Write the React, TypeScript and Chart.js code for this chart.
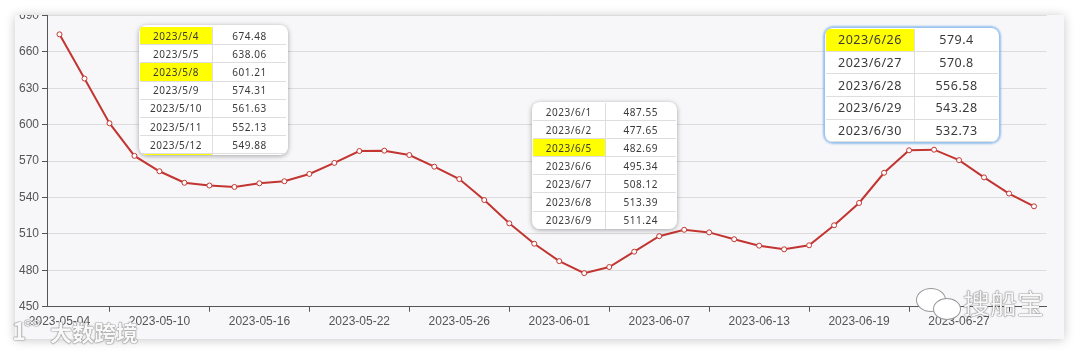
import React, { useEffect, useRef } from 'react';
import { Chart, registerables } from 'chart.js';

Chart.register(...registerables);

// ---- data ----
const dates = [
  '2023-05-04', '2023-05-05', '2023-05-08', '2023-05-09', '2023-05-10', '2023-05-11', '2023-05-12',
  '2023-05-15', '2023-05-16', '2023-05-17', '2023-05-18', '2023-05-19', '2023-05-22', '2023-05-23',
  '2023-05-24', '2023-05-25', '2023-05-26', '2023-05-29', '2023-05-30', '2023-05-31', '2023-06-01',
  '2023-06-02', '2023-06-05', '2023-06-06', '2023-06-07', '2023-06-08', '2023-06-09', '2023-06-12',
  '2023-06-13', '2023-06-14', '2023-06-15', '2023-06-16', '2023-06-19', '2023-06-20', '2023-06-21',
  '2023-06-26', '2023-06-27', '2023-06-28', '2023-06-29', '2023-06-30',
];
const values = [
  674.48, 638.06, 601.21, 574.31, 561.63, 552.13, 549.88,
  548.7, 551.7, 553.4, 559.4, 568.5, 578.3, 578.6,
  575.0, 565.4, 555.2, 537.9, 518.7, 501.9, 487.55,
  477.65, 482.69, 495.34, 508.12, 513.39, 511.24, 505.6,
  500.3, 497.3, 500.6, 517.1, 535.5, 560.4, 578.9,
  579.4, 570.8, 556.58, 543.28, 532.73,
];
const yMin = 450;
const yMax = 690;
const yStep = 30;
const labelEvery = 4;

// tooltip tables (date strings + values shown in the three boxes)
const tableADates = ['2023/5/4', '2023/5/5', '2023/5/8', '2023/5/9', '2023/5/10', '2023/5/11', '2023/5/12', '2023/5/15'];
const tableAValues = ['674.48', '638.06', '601.21', '574.31', '561.63', '552.13', '549.88', '548.7'];
const tableBDates = ['2023/6/1', '2023/6/2', '2023/6/5', '2023/6/6', '2023/6/7', '2023/6/8', '2023/6/9'];
const tableBValues = ['487.55', '477.65', '482.69', '495.34', '508.12', '513.39', '511.24'];
const tableCDates = ['2023/6/26', '2023/6/27', '2023/6/28', '2023/6/29', '2023/6/30'];
const tableCValues = ['579.4', '570.8', '556.58', '543.28', '532.73'];
const highlighted = ['2023/5/4', '2023/5/8', '2023/5/15', '2023/6/5', '2023/6/26'];

const LINE = '#c23531';
const AXIS = '#555';

type TipProps = {
  left: number; top: number; width: number; height: number;
  rowH: number; split: number; fontSize: number; pad: string;
  ds: string[]; vs: string[]; shadow: string;
};

function Tip(p: TipProps) {
  return (
    <div style={{
      position: 'absolute', left: p.left, top: p.top, width: p.width, height: p.height,
      background: '#fff', borderRadius: 8, overflow: 'hidden', boxShadow: p.shadow,
      boxSizing: 'border-box', padding: p.pad,
    }}>
      {p.ds.map((d, i) => (
        <div key={d} style={{
          display: 'flex', height: p.rowH, boxSizing: 'border-box',
          borderBottom: '1px solid #dedede',
          fontFamily: '"Noto Sans", "DejaVu Sans", sans-serif', fontSize: p.fontSize,
          letterSpacing: 0.5, color: '#3a3a3a',
        }}>
          <div style={{
            width: p.split, boxSizing: 'border-box', borderRight: '1px solid #dedede',
            background: highlighted.includes(d) ? '#ffff00' : '#fff',
            display: 'flex', alignItems: 'center', justifyContent: 'center',
          }}>{d}</div>
          <div style={{ flex: 1, display: 'flex', alignItems: 'center', justifyContent: 'center' }}>{p.vs[i]}</div>
        </div>
      ))}
    </div>
  );
}

export default function App() {
  const ref = useRef<HTMLCanvasElement | null>(null);

  useEffect(() => {
    if (!ref.current) return;
    const tickMark = (ctx: any) => (ctx.index % labelEvery === 2 ? AXIS : 'rgba(0,0,0,0)');
    const chart = new Chart(ref.current, {
      type: 'line',
      data: {
        labels: dates,
        datasets: [{
          data: values,
          borderColor: LINE,
          borderWidth: 2,
          pointRadius: 2.5,
          pointBackgroundColor: '#fff',
          pointBorderColor: LINE,
          pointBorderWidth: 1,
          tension: 0,
          fill: false,
        }],
      },
      options: {
        animation: false,
        responsive: false,
        maintainAspectRatio: false,
        events: [],
        layout: { padding: { top: 15.5, right: 17.5, left: 0, bottom: 0 } },
        plugins: { legend: { display: false }, tooltip: { enabled: false } },
        scales: {
          x: {
            type: 'category',
            offset: true,
            grid: {
              display: true, offset: false, drawOnChartArea: false, drawTicks: true,
              tickLength: 5, color: tickMark, tickColor: tickMark,
            },
            border: { display: true, color: AXIS, width: 1 },
            ticks: {
              autoSkip: false, maxRotation: 0, minRotation: 0, padding: 3,
              color: '#555', font: { family: '"Liberation Sans", Arial, sans-serif', size: 12 },
              callback: (_v: any, i: number) => (i % labelEvery === 0 ? dates[i] : ''),
            },
            afterFit: (s: any) => { s.height = 32.3; },
          },
          y: {
            min: yMin, max: yMax,
            ticks: {
              stepSize: yStep, padding: 3, color: '#555',
              font: { family: '"Liberation Sans", Arial, sans-serif', size: 12 },
            },
            grid: { color: '#dcdcdc', tickColor: AXIS, tickLength: 5 },
            border: { display: true, color: AXIS, width: 1 },
            afterFit: (s: any) => { s.width = 32; },
          },
        },
      },
    });
    return () => chart.destroy();
  }, []);

  const wm: React.CSSProperties = {
    position: 'absolute', color: 'rgba(255,255,255,0.95)',
    fontFamily: '"Noto Sans CJK SC", sans-serif',
    textShadow: '0 0 1px #777, 0 0 1px #777, 0 0 2px rgba(0,0,0,0.35)',
    whiteSpace: 'nowrap', lineHeight: 1,
  };

  return (
    <div style={{ position: 'fixed', left: 0, top: 0, width: 1080, height: 354, background: '#fff', overflow: 'hidden' }}>
      <div style={{
        position: 'absolute', left: 15, top: 15, width: 1049, height: 324,
        background: '#f7f7f9', overflow: 'hidden',
        boxShadow: '0 1px 10px rgba(0,0,0,0.22)',
      }}>
        <canvas ref={ref} width={1049} height={339}
          style={{ position: 'absolute', left: 0, top: -15, width: 1049, height: 339 }} />
      </div>

      <Tip left={139} top={25} width={149} height={130} rowH={18.2} split={73}
        fontSize={10} pad="2px 2px 0 1px" ds={tableADates} vs={tableAValues}
        shadow="0 1px 5px rgba(0,0,0,0.35)" />
      <Tip left={532} top={102} width={145} height={127} rowH={18.1} split={72.5}
        fontSize={10} pad="1px 1px 0 1px" ds={tableBDates} vs={tableBValues}
        shadow="0 1px 5px rgba(0,0,0,0.35)" />
      <Tip left={825} top={28} width={174} height={114} rowH={22.7} split={89}
        fontSize={12.5} pad="1px 1px 0 1px" ds={tableCDates} vs={tableCValues}
        shadow="0 0 2px 2px rgba(120,175,235,0.75)" />

      {/* watermark bottom-left */}
      <div style={{ ...wm, left: 12, top: 318, fontSize: 24, fontWeight: 700 }}>1</div>
      <div style={{ ...wm, left: 24, top: 314, fontSize: 16 }}>∞</div>
      <div style={{ ...wm, left: 50, top: 320, fontSize: 22, fontWeight: 700, letterSpacing: 0 }}>大数跨境</div>

      {/* watermark bottom-right */}
      <div style={{
        position: 'absolute', left: 916, top: 288, width: 28, height: 22, borderRadius: '50%',
        background: '#fff', border: '1px solid #999',
      }} />
      <div style={{
        position: 'absolute', left: 933, top: 298, width: 26, height: 20, borderRadius: '50%',
        background: '#fff', border: '1px solid #999',
      }} />
      <div style={{ ...wm, left: 963, top: 289, fontSize: 27 }}>搜船宝</div>
    </div>
  );
}
